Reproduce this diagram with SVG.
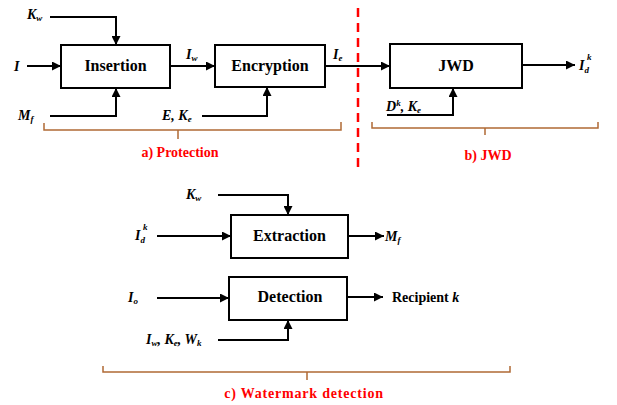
<svg xmlns="http://www.w3.org/2000/svg" width="617" height="405" viewBox="0 0 617 405">
<style>
text{font-family:'Liberation Serif','Times New Roman','DejaVu Serif',serif}
.box{fill:#fff;stroke:#000;stroke-width:2}
.ln{fill:none;stroke:#000;stroke-width:2}
.br{fill:none;stroke:#b06a35;stroke-width:1.5}
.t{font-weight:bold;font-size:16px;fill:#000}
.v{font-weight:bold;font-style:italic;font-size:14px;fill:#000}
.s{font-size:9px}
.cap{font-weight:bold;font-size:14px;fill:#ff0000}
</style>
<defs>
<marker id="ah" viewBox="0 0 10 10" refX="10" refY="5" markerWidth="4.5" markerHeight="4.5" orient="auto" markerUnits="strokeWidth">
<path d="M0,0 L10,5 L0,10 z" fill="#000"/>
</marker>
</defs>
<g id="connectors">
<path class="ln" d="M50,17 H116 V45" marker-end="url(#ah)"/>
<path class="ln" d="M27,66 H61" marker-end="url(#ah)"/>
<path class="ln" d="M50,116 H116 V88" marker-end="url(#ah)"/>
<path class="ln" d="M170,66 H215" marker-end="url(#ah)"/>
<path class="ln" d="M202,116 H267 V87" marker-end="url(#ah)"/>
<path class="ln" d="M325,66 H390" marker-end="url(#ah)"/>
<path class="ln" d="M522,65 H575" marker-end="url(#ah)"/>
<path class="ln" d="M387,115 H453 V88" marker-end="url(#ah)"/>
<path class="ln" d="M218,195 H288 V215" marker-end="url(#ah)"/>
<path class="ln" d="M157,236 H231" marker-end="url(#ah)"/>
<path class="ln" d="M348,236 H384" marker-end="url(#ah)"/>
<path class="ln" d="M157,298 H229" marker-end="url(#ah)"/>
<path class="ln" d="M347,297 H383" marker-end="url(#ah)"/>
<path class="ln" d="M218,340 H288 V320" marker-end="url(#ah)"/>
</g>
<line id="divider" x1="358" y1="8" x2="358" y2="170" stroke="#ff0000" stroke-width="2.5" stroke-dasharray="9,6"/>
<g id="insertion"><rect class="box" x="61" y="45" width="109" height="43"/><text class="t" x="115.5" y="71" text-anchor="middle">Insertion</text></g>
<g id="encryption"><rect class="box" x="215" y="45" width="110" height="42"/><text class="t" x="270" y="71" text-anchor="middle">Encryption</text></g>
<g id="jwd"><rect class="box" x="390" y="44" width="132" height="44"/><text class="t" x="456" y="71" text-anchor="middle">JWD</text></g>
<g id="extraction"><rect class="box" x="231" y="215" width="117" height="43"/><text class="t" x="289.5" y="241" text-anchor="middle">Extraction</text></g>
<g id="detection"><rect class="box" x="229" y="277" width="118" height="43"/><text class="t" x="290" y="302" text-anchor="middle">Detection</text></g>
<g id="labels">
<text class="v" x="27" y="19">K<tspan class="s" dy="2">w</tspan></text>
<text class="v" x="14" y="71">I</text>
<text class="v" x="18" y="120">M<tspan class="s" dy="2">f</tspan></text>
<text class="v" x="186" y="59">I<tspan class="s" dy="2">w</tspan></text>
<text class="v" x="162" y="120">E, K<tspan class="s" dy="2">e</tspan></text>
<text class="v" x="333" y="59">I<tspan class="s" dy="2">e</tspan></text>
<text class="v" x="579" y="70">I<tspan class="s" dy="3">d</tspan><tspan class="s" dx="-2" dy="-13">k</tspan></text>
<text class="v" x="386" y="111">D<tspan class="s" dy="-5">k</tspan><tspan dy="5">, K</tspan><tspan class="s" dy="2">e</tspan></text>
<text class="v" x="186" y="199">K<tspan class="s" dy="2">w</tspan></text>
<text class="v" x="135" y="240">I<tspan class="s" dy="3">d</tspan><tspan class="s" dx="-2" dy="-13">k</tspan></text>
<text class="v" x="385" y="241">M<tspan class="s" dy="2">f</tspan></text>
<text class="v" x="128" y="302">I<tspan class="s" dy="2">o</tspan></text>
<text class="t" x="392" y="302" style="font-size:14px">Recipient <tspan font-style="italic">k</tspan></text>
<text class="v" x="146" y="344">I<tspan class="s" dy="2">w</tspan><tspan dy="-2">, K</tspan><tspan class="s" dy="2">e</tspan><tspan dy="-2">, W</tspan><tspan class="s" dy="2">k</tspan></text>
</g>
<g id="braces">
<path class="br" d="M44,123 V130 H341 V122 M178,130 V139"/>
<path class="br" d="M372,122 V128 H598 V122 M485,128 V135"/>
<path class="br" d="M103,366 V372 H510 V366 M307,372 V380"/>
</g>
<g id="captions">
<text class="cap" x="180" y="157" text-anchor="middle">a) Protection</text>
<text class="cap" x="488" y="160" text-anchor="middle">b) JWD</text>
<text class="cap" x="304" y="398" text-anchor="middle" letter-spacing="0.8">c) Watermark detection</text>
</g>
</svg>
